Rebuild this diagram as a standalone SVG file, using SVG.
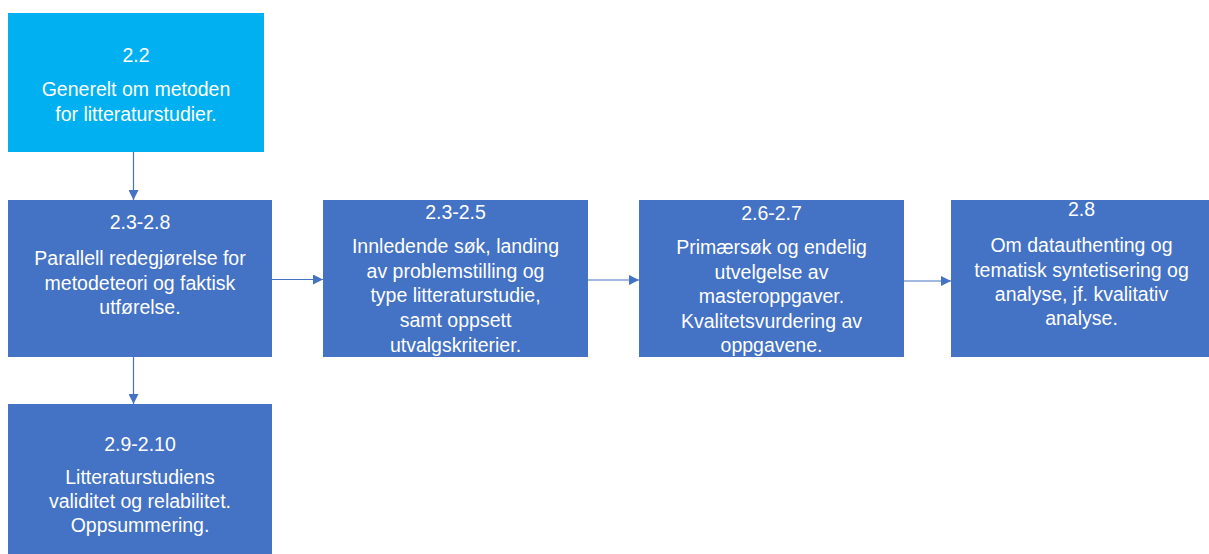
<svg xmlns="http://www.w3.org/2000/svg" width="1209" height="554" viewBox="0 0 1209 554">
  <style>
    .box { fill: #4472C4; }
    .box-light { fill: #00B0F0; }
    .t { font-family: "Liberation Sans", Arial, sans-serif; font-size: 19.5px; fill: #FFFFFF; text-anchor: middle; }
    .conn { stroke: #4472C4; stroke-width: 1.2; fill: none; marker-end: url(#arrow); }
  </style>
  <defs>
    <marker id="arrow" viewBox="0 0 10 10" refX="10" refY="5" markerWidth="10" markerHeight="10" markerUnits="userSpaceOnUse" orient="auto">
      <path d="M0,0 L10,5 L0,10 Z" fill="#4472C4"/>
    </marker>
  </defs>
  <rect width="1209" height="554" fill="#FFFFFF"/>

  <g id="connectors">
    <line class="conn" x1="133.5" y1="152" x2="133.5" y2="200"/>
    <line class="conn" x1="272" y1="279.5" x2="323" y2="279.5"/>
    <line class="conn" x1="588" y1="280" x2="639" y2="280"/>
    <line class="conn" x1="904" y1="281" x2="951" y2="281"/>
    <line class="conn" x1="133.5" y1="357" x2="133.5" y2="404"/>
  </g>

  <g id="node-2-2">
    <rect class="box-light" x="8" y="13" width="256" height="139"/>
    <text class="t" x="136" y="61.5">2.2</text>
    <text class="t" x="136" y="96">Generelt om metoden</text>
    <text class="t" x="136" y="121">for litteraturstudier.</text>
  </g>

  <g id="node-2-3-2-8">
    <rect class="box" x="8" y="200" width="264" height="157"/>
    <text class="t" x="140" y="229">2.3-2.8</text>
    <text class="t" x="140" y="265">Parallell redegjørelse for</text>
    <text class="t" x="140" y="289.5">metodeteori og faktisk</text>
    <text class="t" x="140" y="314">utførelse.</text>
  </g>

  <g id="node-2-3-2-5">
    <rect class="box" x="323" y="200" width="265" height="157"/>
    <text class="t" x="455.5" y="219">2.3-2.5</text>
    <text class="t" x="455.5" y="253">Innledende søk, landing</text>
    <text class="t" x="455.5" y="278">av problemstilling og</text>
    <text class="t" x="455.5" y="302">type litteraturstudie,</text>
    <text class="t" x="455.5" y="327">samt oppsett</text>
    <text class="t" x="455.5" y="352">utvalgskriterier.</text>
  </g>

  <g id="node-2-6-2-7">
    <rect class="box" x="639" y="200" width="265" height="157"/>
    <text class="t" x="771.5" y="220">2.6-2.7</text>
    <text class="t" x="771.5" y="254">Primærsøk og endelig</text>
    <text class="t" x="771.5" y="279">utvelgelse av</text>
    <text class="t" x="771.5" y="303">masteroppgaver.</text>
    <text class="t" x="771.5" y="328">Kvalitetsvurdering av</text>
    <text class="t" x="771.5" y="352">oppgavene.</text>
  </g>

  <g id="node-2-8">
    <rect class="box" x="951" y="200" width="262" height="157"/>
    <text class="t" x="1081.5" y="216">2.8</text>
    <text class="t" x="1081.5" y="252">Om datauthenting og</text>
    <text class="t" x="1081.5" y="276.5">tematisk syntetisering og</text>
    <text class="t" x="1081.5" y="301">analyse, jf. kvalitativ</text>
    <text class="t" x="1081.5" y="325">analyse.</text>
  </g>

  <g id="node-2-9-2-10">
    <rect class="box" x="8" y="404" width="264" height="155"/>
    <text class="t" x="140" y="451">2.9-2.10</text>
    <text class="t" x="140" y="484">Litteraturstudiens</text>
    <text class="t" x="140" y="508">validitet og relabilitet.</text>
    <text class="t" x="140" y="532">Oppsummering.</text>
  </g>
</svg>
